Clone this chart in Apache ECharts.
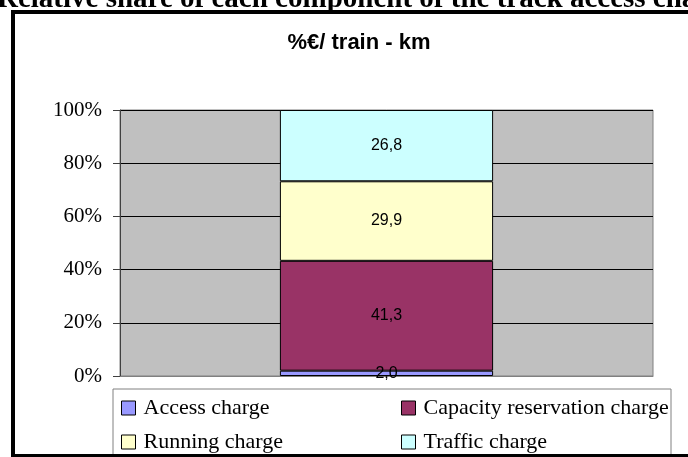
<!DOCTYPE html>
<html>
<head>
<meta charset="utf-8">
<script src="https://cdn.jsdelivr.net/npm/echarts@6/dist/echarts.min.js"></script>
<style>
html,body{margin:0;padding:0;background:#fff;}
#chart{width:688px;height:457px;}
</style>
</head>
<body>
<div id="chart"></div>
<script>
// Share of each track access charge component (% of €/train-km)
const categories = ['%€/ train - km'];
const seriesNames = ['Access charge', 'Capacity reservation charge', 'Running charge', 'Traffic charge'];
const seriesColors = ['#9999FF', '#993366', '#FFFFCC', '#CCFFFF'];
const accessCharge = [2.0];
const capacityCharge = [41.3];
const runningCharge = [29.9];
const trafficCharge = [26.8];
const yTicks = [0, 20, 40, 60, 80, 100];

const seriesValues = [accessCharge, capacityCharge, runningCharge, trafficCharge];
const serif = '"Liberation Serif", "DejaVu Serif", serif';
const sans = '"Liberation Sans", Arial, sans-serif';

// legend laid out as a 2x2 table: [left, top] per entry
const legendSlots = [[121, 397], [401, 397], [121, 431], [401, 431]];

const chart = echarts.init(document.getElementById('chart'), null, {renderer: 'canvas'});

chart.setOption({
  animation: false,
  backgroundColor: '#ffffff',
  title: {
    text: categories[0],
    left: 354,
    textAlign: 'center',
    top: 27,
    textStyle: {fontFamily: sans, fontWeight: 'bold', fontSize: 22, color: '#000'}
  },
  grid: {
    left: 120, top: 110, width: 533, height: 266,
    show: true, backgroundColor: '#C0C0C0', borderColor: '#808080', borderWidth: 1,
    containLabel: false
  },
  xAxis: {
    type: 'category',
    data: categories,
    axisLabel: {show: false},
    axisTick: {show: false},
    axisLine: {lineStyle: {color: '#808080', width: 1}}
  },
  yAxis: {
    type: 'value',
    min: yTicks[0], max: yTicks[yTicks.length - 1], interval: 20,
    axisLine: {show: true, lineStyle: {color: '#404040', width: 1}},
    axisTick: {show: true, length: 7, lineStyle: {color: '#404040'}},
    axisLabel: {
      formatter: v => v + '%',
      fontFamily: serif, fontSize: 21, color: '#000', margin: 18
    },
    splitLine: {show: true, lineStyle: {color: '#000', width: 1}}
  },
  legend: seriesNames.map((name, i) => ({
    data: [name],
    left: legendSlots[i][0], top: legendSlots[i][1], padding: 0,
    itemWidth: 14, itemHeight: 14, icon: 'rect',
    itemStyle: {borderColor: '#000', borderWidth: 1},
    textStyle: {fontFamily: serif, fontSize: 22, color: '#000', padding: [0, 0, 0, 3]}
  })),
  graphic: [
    {
      type: 'rect', z: 0, silent: true,
      shape: {x: 113, y: 389, width: 558, height: 80},
      style: {fill: '#fff', stroke: '#808080', lineWidth: 1}
    },
    {
      type: 'rect', z: 100, silent: true,
      shape: {x: 13, y: 12, width: 700, height: 444},
      style: {fill: 'none', stroke: '#000', lineWidth: 4}
    },
    {
      type: 'text', z: 100, silent: true,
      left: -3, top: -15,
      style: {
        text: 'Relative share of each component of the track access charges',
        fontFamily: serif, fontWeight: 'bold', fontSize: 29, fill: '#000'
      }
    }
  ],
  series: seriesNames.map((name, i) => ({
    name: name,
    type: 'bar',
    stack: 'total',
    barWidth: '40%',
    data: seriesValues[i],
    itemStyle: {color: seriesColors[i], borderColor: '#000', borderWidth: 1},
    label: {
      show: true, position: 'inside',
      formatter: p => p.value.toFixed(1).replace('.', ','),
      fontFamily: sans, fontSize: 16, color: '#000'
    }
  }))
});
</script>
</body>
</html>
